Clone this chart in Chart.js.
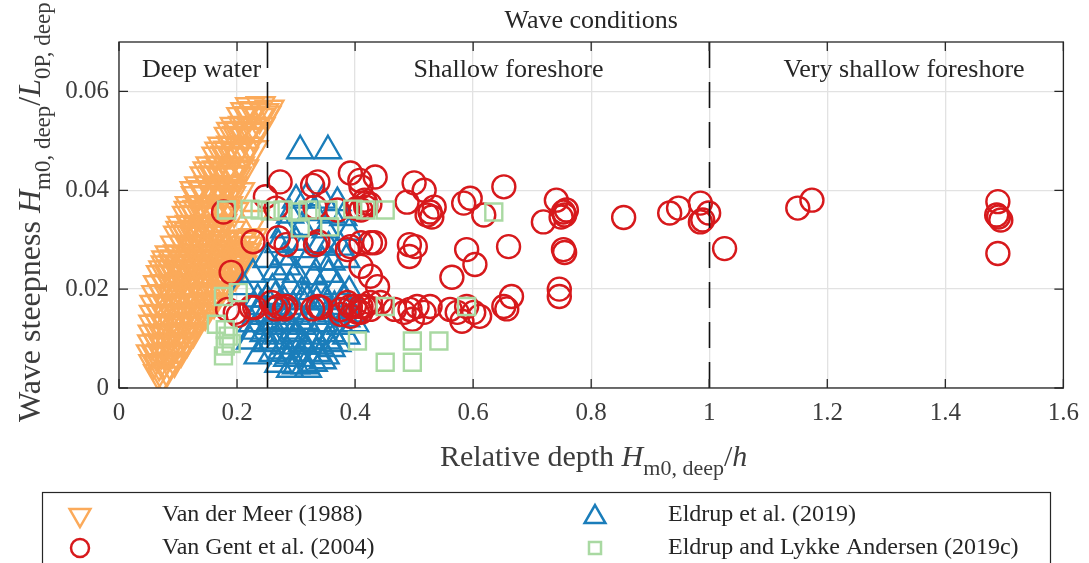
<!DOCTYPE html>
<html>
<head>
<meta charset="utf-8">
<script src="https://cdn.jsdelivr.net/npm/chart.js@4.4.0/dist/chart.umd.min.js"></script>
<style>
  html, body { margin: 0; padding: 0; background: #fff; }
  #wrap { width: 1089px; height: 563px; }
</style>
</head>
<body>
<div id="wrap"><canvas id="chart" width="1089" height="563"></canvas></div>
<script>
// tick values and labels
const xTicks = [0, 0.2, 0.4, 0.6, 0.8, 1, 1.2, 1.4, 1.6];
const xTickLabels = ["0", "0.2", "0.4", "0.6", "0.8", "1", "1.2", "1.4", "1.6"];
const yTicks = [0, 0.02, 0.04, 0.06];
const yTickLabels = ["0", "0.02", "0.04", "0.06"];

// zone borders and labels
const zoneLines = [0.25, 1];
const zoneLabels = ["Deep water", "Shallow foreshore", "Very shallow foreshore"];
const zoneLabelX = [0.14, 0.66, 1.33];

// [relative depth, wave steepness]
const vanDerMeer = [
  [0.066,0.003],[0.074,0.0025],[0.081,0.0035],
  [0.058,0.005],[0.068,0.0048],[0.077,0.0052],[0.086,0.005],[0.094,0.0055],
  [0.054,0.007],[0.063,0.0068],[0.072,0.0072],[0.081,0.007],[0.09,0.0074],[0.098,0.0068],[0.105,0.0075],
  [0.056,0.009],[0.065,0.0092],[0.074,0.0088],[0.083,0.0093],[0.092,0.009],[0.101,0.0094],[0.109,0.0088],[0.115,0.0095],
  [0.057,0.011],[0.066,0.0112],[0.075,0.0108],[0.084,0.0113],[0.093,0.011],[0.102,0.0114],[0.111,0.0108],[0.119,0.0112],[0.126,0.0115],
  [0.058,0.013],[0.068,0.0132],[0.078,0.0128],[0.088,0.0133],[0.098,0.013],[0.107,0.0134],[0.116,0.0128],[0.125,0.0133],[0.134,0.0136],
  [0.059,0.015],[0.07,0.0152],[0.08,0.0148],[0.09,0.0153],[0.1,0.015],[0.11,0.0154],[0.12,0.0148],[0.13,0.0153],[0.139,0.0156],[0.146,0.015],
  [0.06,0.017],[0.071,0.0172],[0.082,0.0168],[0.093,0.0173],[0.104,0.017],[0.114,0.0174],[0.124,0.0168],[0.134,0.0173],[0.144,0.0176],[0.153,0.017],[0.161,0.0174],
  [0.063,0.019],[0.074,0.0192],[0.085,0.0188],[0.096,0.0193],[0.107,0.019],[0.118,0.0194],[0.129,0.0188],[0.139,0.0193],[0.149,0.0196],[0.159,0.019],[0.168,0.0194],
  [0.066,0.021],[0.078,0.0212],[0.09,0.0208],[0.102,0.0213],[0.114,0.021],[0.126,0.0214],[0.137,0.0208],[0.148,0.0213],[0.158,0.0216],[0.168,0.021],[0.177,0.0214],[0.185,0.021],
  [0.071,0.023],[0.084,0.0232],[0.097,0.0228],[0.11,0.0233],[0.122,0.023],[0.134,0.0234],[0.146,0.0228],[0.157,0.0233],[0.168,0.0236],[0.178,0.023],[0.188,0.0234],[0.197,0.023],
  [0.075,0.024],[0.09,0.0242],[0.104,0.0238],[0.118,0.0241],[0.132,0.0243],[0.146,0.024],[0.16,0.0242],[0.174,0.0239],[0.188,0.0243],[0.203,0.024],
  [0.079,0.025],[0.092,0.0252],[0.105,0.0248],[0.118,0.0253],[0.131,0.025],[0.143,0.0254],[0.155,0.0248],[0.167,0.0253],[0.178,0.0256],[0.189,0.025],[0.2,0.0254],[0.209,0.025],
  [0.08,0.026],[0.095,0.0262],[0.11,0.0258],[0.125,0.0261],[0.14,0.0263],[0.16,0.026],[0.175,0.0262],[0.195,0.0259],[0.212,0.0263],
  [0.086,0.027],[0.1,0.0272],[0.114,0.0268],[0.128,0.0273],[0.142,0.027],[0.156,0.0274],[0.17,0.0268],[0.184,0.0273],[0.198,0.0272],[0.21,0.0268],[0.216,0.0275],
  [0.175,0.028],[0.19,0.0282],[0.205,0.0279],
  [0.095,0.029],[0.109,0.0292],[0.123,0.0288],[0.137,0.0293],[0.151,0.029],[0.165,0.0294],[0.212,0.029],[0.22,0.0288],
  [0.175,0.030],[0.19,0.0302],[0.205,0.0298],[0.218,0.0302],
  [0.1,0.031],[0.114,0.0312],[0.128,0.0308],[0.142,0.0313],[0.156,0.031],[0.168,0.0314],[0.227,0.0305],
  [0.104,0.032],[0.118,0.0318],[0.132,0.0322],[0.146,0.0319],[0.16,0.0321],[0.172,0.0324],[0.19,0.032],
  [0.106,0.033],[0.12,0.0332],[0.134,0.0328],[0.148,0.0333],[0.162,0.033],[0.175,0.0334],
  [0.115,0.035],[0.13,0.0352],[0.145,0.0348],[0.16,0.0353],[0.18,0.035],[0.23,0.0342],
  [0.118,0.036],[0.133,0.0362],[0.149,0.0358],[0.164,0.0361],[0.178,0.0364],[0.195,0.0358],
  [0.12,0.037],[0.135,0.0372],[0.152,0.0368],[0.168,0.0373],[0.185,0.037],
  [0.13,0.039],[0.146,0.0392],[0.162,0.0388],[0.178,0.0393],[0.19,0.039],
  [0.128,0.040],[0.143,0.0402],[0.159,0.0398],[0.175,0.0401],[0.19,0.0404],[0.205,0.0398],
  [0.136,0.041],[0.152,0.0412],[0.168,0.0408],[0.184,0.0413],[0.195,0.041],
  [0.145,0.043],[0.16,0.0432],[0.175,0.0428],[0.19,0.0433],[0.2,0.043],
  [0.15,0.044],[0.166,0.0442],[0.181,0.0438],[0.197,0.0441],[0.212,0.0444],
  [0.155,0.045],[0.17,0.0452],[0.185,0.0448],[0.205,0.045],
  [0.165,0.047],[0.18,0.0472],[0.196,0.0468],[0.212,0.047],
  [0.17,0.048],[0.185,0.0482],[0.2,0.0478],[0.215,0.0481],[0.228,0.0483],
  [0.175,0.049],[0.19,0.0492],[0.205,0.0488],[0.22,0.049],
  [0.186,0.051],[0.2,0.0512],[0.214,0.0508],[0.228,0.051],
  [0.19,0.052],[0.204,0.0522],[0.219,0.0518],[0.233,0.0521],
  [0.196,0.053],[0.21,0.0532],[0.225,0.0528],[0.24,0.053],
  [0.207,0.055],[0.222,0.0552],[0.238,0.0548],[0.25,0.0553],
  [0.214,0.056],[0.23,0.0562],[0.246,0.0558],
  [0.222,0.057],[0.24,0.0572],[0.255,0.0565]
];

const vanGent = [
  [0.177,0.0356],[0.227,0.0296],[0.19,0.0234],[0.184,0.0159],[0.202,0.0147],[0.23,0.0163],
  [0.248,0.0387],[0.273,0.0417],[0.266,0.0364],[0.27,0.0304],[0.283,0.029],
  [0.258,0.0173],[0.27,0.0165],[0.28,0.016],[0.265,0.016],[0.197,0.0153],[0.224,0.0163],[0.283,0.0165],
  [0.328,0.041],[0.337,0.0417],[0.332,0.0366],[0.337,0.0296],[0.333,0.029],
  [0.337,0.0165],[0.328,0.016],[0.342,0.0163],[0.37,0.036],[0.376,0.0149],
  [0.392,0.0435],[0.408,0.042],[0.41,0.0407],[0.434,0.0427],
  [0.416,0.038],[0.418,0.0374],[0.41,0.036],[0.418,0.0366],[0.403,0.0363],[0.425,0.0372],
  [0.392,0.0286],[0.41,0.0294],[0.426,0.0294],[0.433,0.0294],[0.387,0.028],
  [0.41,0.0246],[0.426,0.0226],[0.438,0.0205],
  [0.387,0.0173],[0.399,0.0165],[0.41,0.0165],[0.426,0.0173],[0.41,0.0153],[0.392,0.0145],
  [0.376,0.0159],[0.392,0.0165],[0.404,0.0153],[0.416,0.0165],[0.426,0.0159],[0.443,0.0173],
  [0.467,0.0159],[0.483,0.0153],[0.493,0.0159],[0.505,0.0165],[0.517,0.0153],[0.497,0.0139],
  [0.527,0.0165],[0.561,0.0159],[0.573,0.0153],[0.581,0.0135],[0.589,0.0165],[0.601,0.0153],[0.611,0.0145],
  [0.50,0.0415],[0.517,0.040],[0.488,0.0376],[0.534,0.0366],[0.527,0.0356],[0.522,0.035],[0.53,0.0346],
  [0.595,0.0384],[0.584,0.0374],[0.618,0.035],[0.652,0.0407],
  [0.741,0.038],[0.758,0.036],[0.755,0.035],[0.749,0.0346],[0.719,0.0336],[0.753,0.0356],
  [0.492,0.029],[0.502,0.0286],[0.492,0.0266],
  [0.589,0.028],[0.603,0.025],[0.66,0.0286],[0.753,0.028],[0.755,0.0274],
  [0.564,0.0224],[0.746,0.02],[0.746,0.0185],[0.665,0.0185],[0.652,0.0165],[0.657,0.016],
  [0.855,0.0345],[0.933,0.0354],[0.948,0.0364],[0.985,0.0374],[0.999,0.0354],[0.989,0.034],[0.985,0.0336],
  [1.026,0.0282],[1.15,0.0364],[1.174,0.038],
  [1.489,0.0377],[1.487,0.035],[1.49,0.0346],[1.494,0.034],[1.489,0.0272]
];

const eldrup = [
  [0.307,0.048],[0.354,0.048],
  [0.30,0.038],[0.318,0.0385],[0.345,0.038],[0.37,0.0375],
  [0.29,0.035],[0.33,0.0355],[0.36,0.035],[0.38,0.0345],
  [0.28,0.032],[0.31,0.0325],[0.35,0.032],[0.39,0.0315],
  [0.27,0.029],[0.30,0.0295],[0.34,0.029],[0.375,0.0285],[0.31,0.028],[0.355,0.0285],
  [0.25,0.026],[0.28,0.0265],[0.32,0.026],[0.36,0.0255],[0.385,0.026],[0.285,0.0245],[0.345,0.0255],
  [0.227,0.023],[0.265,0.0235],[0.30,0.023],[0.33,0.0225],[0.355,0.023],
  [0.21,0.0205],[0.26,0.020],[0.29,0.0205],[0.31,0.0195],[0.34,0.020],[0.37,0.0205],[0.39,0.0195],
  [0.25,0.018],[0.28,0.0175],[0.32,0.018],[0.35,0.0175],[0.38,0.018],
  [0.235,0.018],[0.265,0.0185],[0.295,0.0165],[0.31,0.0175],[0.335,0.0175],[0.365,0.0165],
  [0.235,0.015],[0.27,0.0155],[0.30,0.015],[0.33,0.0145],[0.36,0.015],[0.395,0.015],
  [0.245,0.0145],[0.28,0.0145],[0.315,0.0135],[0.35,0.0145],[0.385,0.014],
  [0.225,0.013],[0.255,0.0125],[0.285,0.013],[0.31,0.0125],[0.345,0.013],[0.375,0.0125],[0.40,0.013],
  [0.228,0.0115],[0.222,0.0095],[0.235,0.0065],
  [0.245,0.011],[0.27,0.0105],[0.30,0.011],[0.33,0.0105],[0.36,0.011],[0.385,0.0105],
  [0.25,0.009],[0.28,0.0085],[0.31,0.009],[0.34,0.0085],[0.37,0.009],
  [0.26,0.0095],[0.295,0.0095],[0.325,0.0095],[0.36,0.008],
  [0.26,0.007],[0.29,0.0065],[0.32,0.007],[0.35,0.0065],[0.275,0.0075],[0.305,0.006],[0.335,0.007],
  [0.27,0.0048],[0.30,0.0045],[0.33,0.005],[0.315,0.0045],[0.29,0.0038],[0.32,0.0038],
  [0.265,0.0135],[0.295,0.0115],[0.325,0.0155],[0.355,0.0095],[0.24,0.0165],[0.315,0.0085],[0.285,0.006],[0.345,0.0055]
];

const eldrupLykke = [
  [0.182,0.036],[0.222,0.0362],[0.239,0.036],[0.256,0.0358],[0.278,0.036],[0.303,0.0356],
  [0.32,0.036],[0.354,0.036],[0.396,0.0362],[0.418,0.036],[0.451,0.036],[0.635,0.0356],
  [0.307,0.0324],[0.357,0.0326],
  [0.177,0.0185],[0.202,0.0193],[0.165,0.0129],[0.18,0.0118],[0.185,0.0105],
  [0.19,0.009],[0.18,0.0085],[0.177,0.0065],
  [0.451,0.0165],[0.589,0.0165],[0.404,0.0095],[0.497,0.0095],[0.542,0.0095],
  [0.451,0.0052],[0.497,0.0052]
];

const ORANGE = "#fbaa5a";
const RED = "#d7191c";
const BLUE = "#1a7dba";
const GREEN = "#a9d9a2";
const INK = "#262626";
const FONT = '"Liberation Serif", "Times New Roman", serif';

function pts(arr) {
  return arr.map(p => ({ x: p[0], y: p[1] }));
}

// text made of parts: normal, italic, subscript
function fontFor(p, size) {
  const s = p.sub ? Math.round(size * 0.72) : size;
  return (p.it ? "italic " : "") + s + "px " + FONT;
}
function drawRich(ctx, parts, x, y, size) {
  let cx = x;
  parts.forEach(p => {
    ctx.font = fontFor(p, size);
    ctx.fillText(p.t, cx, p.sub ? y + size * 0.3 : y);
    cx += ctx.measureText(p.t).width;
  });
}

const yTitle = [
  { t: "Wave steepness " }, { t: "H", it: true }, { t: "m0, deep", sub: true },
  { t: "/" }, { t: "L", it: true }, { t: "0P, deep", sub: true }
];
const xTitle = [
  { t: "Relative depth " }, { t: "H", it: true }, { t: "m0, deep", sub: true },
  { t: "/" }, { t: "h", it: true }
];

const legendItems = [
  { label: "Van der Meer (1988)", style: "triangle", rot: 180, color: ORANGE, r: 12, x: 80, y: 515 },
  { label: "Van Gent et al. (2004)", style: "circle", rot: 0, color: RED, r: 9, x: 80, y: 548 },
  { label: "Eldrup et al. (2019)", style: "triangle", rot: 0, color: BLUE, r: 12, x: 595, y: 517 },
  { label: "Eldrup and Lykke Andersen (2019c)", style: "rect", rot: 0, color: GREEN, r: 8.5, x: 595, y: 548 }
];

const decor = {
  id: "decor",
  afterDatasetsDraw(chart) {
    const ctx = chart.ctx;
    const a = chart.chartArea;
    const xs = chart.scales.x;
    ctx.save();
    ctx.strokeStyle = "#111";
    ctx.lineWidth = 1.6;
    ctx.setLineDash([26, 14]);
    zoneLines.forEach(v => {
      const px = Math.round(xs.getPixelForValue(v)) + 0.5;
      ctx.beginPath();
      ctx.moveTo(px, a.top);
      ctx.lineTo(px, a.bottom);
      ctx.stroke();
    });
    ctx.restore();
  },
  afterDraw(chart) {
    const ctx = chart.ctx;
    const a = chart.chartArea;
    const xs = chart.scales.x;
    const ys = chart.scales.y;
    ctx.save();

    // box and inward ticks
    ctx.strokeStyle = INK;
    ctx.lineWidth = 1.3;
    ctx.strokeRect(a.left, a.top, a.right - a.left, a.bottom - a.top);
    ctx.beginPath();
    xTicks.forEach(v => {
      const px = xs.getPixelForValue(v);
      ctx.moveTo(px, a.bottom); ctx.lineTo(px, a.bottom - 9);
      ctx.moveTo(px, a.top); ctx.lineTo(px, a.top + 9);
    });
    yTicks.forEach(v => {
      const py = ys.getPixelForValue(v);
      ctx.moveTo(a.left, py); ctx.lineTo(a.left + 9, py);
      ctx.moveTo(a.right, py); ctx.lineTo(a.right - 9, py);
    });
    ctx.stroke();

    // zone labels and title
    ctx.fillStyle = INK;
    ctx.textBaseline = "alphabetic";
    ctx.textAlign = "center";
    ctx.font = "26px " + FONT;
    zoneLabels.forEach((t, i) => {
      ctx.fillText(t, xs.getPixelForValue(zoneLabelX[i]), a.top + 35);
    });
    ctx.fillText("Wave conditions", (a.left + a.right) / 2, 28);

    // axis titles
    ctx.textAlign = "left";
    ctx.fillStyle = "#3c3c3c";
    drawRich(ctx, xTitle, 440, 466, 30);
    ctx.save();
    ctx.translate(40, 0);
    ctx.rotate(-Math.PI / 2);
    drawRich(ctx, yTitle, -422, 0, 32);
    ctx.restore();

    // legend
    ctx.strokeStyle = INK;
    ctx.lineWidth = 1.2;
    ctx.strokeRect(42.5, 492.5, 1008, 90);
    ctx.font = "24px " + FONT;
    ctx.textBaseline = "middle";
    legendItems.forEach((it, i) => {
      ctx.fillStyle = "rgba(0,0,0,0)";
      ctx.strokeStyle = it.color;
      ctx.lineWidth = 2.5;
      Chart.helpers.drawPoint(ctx, { pointStyle: it.style, radius: it.r, rotation: it.rot, borderWidth: 2.5 }, it.x, it.y);
      ctx.fillStyle = INK;
      ctx.fillText(it.label, i < 2 ? 162 : 668, i % 2 ? 548 : 515);
    });
    ctx.restore();
  }
};

function series(label, data, style, rot, r, color, order) {
  return {
    label: label,
    data: pts(data),
    showLine: false,
    pointStyle: style,
    pointRotation: rot,
    pointRadius: r,
    pointHoverRadius: r,
    pointBorderWidth: 2.4,
    pointBorderColor: color,
    pointBackgroundColor: "rgba(0,0,0,0)",
    order: order
  };
}

new Chart(document.getElementById("chart"), {
  type: "scatter",
  data: {
    datasets: [
      series("Van der Meer (1988)", vanDerMeer, "triangle", 180, 16, ORANGE, 4),
      series("Van Gent et al. (2004)", vanGent, "circle", 0, 11.5, RED, 2),
      series("Eldrup et al. (2019)", eldrup, "triangle", 0, 15, BLUE, 3),
      series("Eldrup and Lykke Andersen (2019c)", eldrupLykke, "rect", 0, 12, GREEN, 1)
    ]
  },
  plugins: [decor],
  options: {
    responsive: false,
    animation: false,
    events: [],
    layout: { padding: { left: 0, right: 20, top: 42, bottom: 135 } },
    plugins: {
      legend: { display: false },
      tooltip: { enabled: false },
      title: { display: false }
    },
    scales: {
      x: {
        type: "linear",
        min: 0,
        max: 1.6,
        afterBuildTicks: s => { s.ticks = xTicks.map(v => ({ value: v })); },
        afterFit: s => { s.height = 40; },
        ticks: {
          color: "#3c3c3c",
          font: { family: FONT, size: 25 },
          padding: 10,
          maxRotation: 0,
          autoSkip: false,
          callback: (v, i) => xTickLabels[i]
        },
        grid: { color: "#e2e2e2", lineWidth: 1.3, drawTicks: false },
        border: { display: false }
      },
      y: {
        type: "linear",
        min: 0,
        max: 0.07,
        afterBuildTicks: s => { s.ticks = yTicks.map(v => ({ value: v })); },
        afterFit: s => { s.width = 119; },
        ticks: {
          color: "#3c3c3c",
          font: { family: FONT, size: 25 },
          padding: 10,
          autoSkip: false,
          callback: (v, i) => yTickLabels[i]
        },
        grid: { color: "#e2e2e2", lineWidth: 1.3, drawTicks: false },
        border: { display: false }
      }
    }
  }
});
</script>
</body>
</html>
